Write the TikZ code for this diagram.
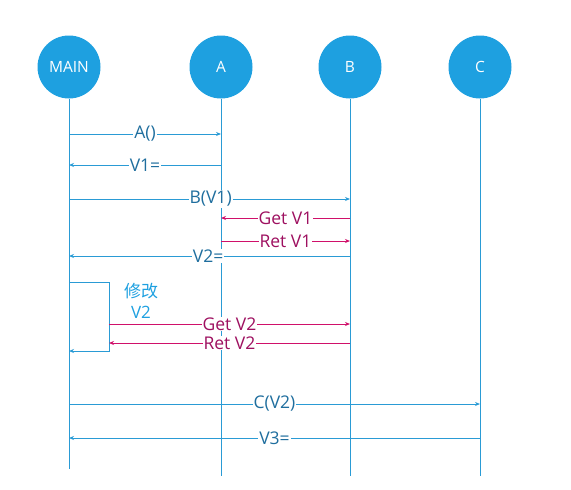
\documentclass[tikz,border=0pt]{standalone}
\usepackage{fontspec}
\setmainfont{Open Sans}
\newfontfamily\cjk{Noto Sans CJK SC}
\usetikzlibrary{arrows.meta}
\definecolor{cblue}{HTML}{1EA0E0}
\definecolor{lblue}{HTML}{2A9BD5}
\definecolor{tblue}{HTML}{1F6E9E}
\definecolor{mag}{HTML}{D0106A}
\definecolor{tmag}{HTML}{9E1060}
\tikzset{
  actor/.style={circle, fill=cblue, minimum size=63pt, inner sep=0pt, text=white, font=\fontsize{15.5}{18}\selectfont},
  life/.style={draw=lblue, line width=1pt},
  msg/.style={draw=lblue, line width=1pt, -{Stealth[length=5pt,width=4pt]}},
  rmsg/.style={draw=mag, line width=1pt, -{Stealth[length=5pt,width=4pt]}},
  lbl/.style={fill=white, inner sep=1pt, text=tblue, font=\fontsize{17.5}{20}\selectfont},
  rlbl/.style={fill=white, inner sep=1pt, text=tmag, font=\fontsize{17.5}{20}\selectfont},
}
\begin{document}
\begin{tikzpicture}[x=1pt,y=-1pt]
\useasboundingbox (0,0) rectangle (571,490);
% actors
\node[actor] (main) at (69,67) {MAIN};
\node[actor] (a) at (221,67) {A};
\node[actor] (b) at (350,67) {B};
\node[actor] (c) at (480,67) {C};
% lifeline ends
\coordinate (mainE) at (69,469);
\coordinate (aE) at (221,476);
\coordinate (bE) at (350,476);
\coordinate (cE) at (480,476);
\draw[life] (main.south) -- (mainE);
\draw[life] (a.south) -- (aE);
\draw[life] (b.south) -- (bE);
\draw[life] (c.south) -- (cE);
% message points
\coordinate (m1) at (69,134); \coordinate (a1) at (221,134);
\coordinate (m2) at (69,165); \coordinate (a2) at (221,165);
\coordinate (m3) at (69,199); \coordinate (b3) at (350,199);
\coordinate (a4) at (221,218); \coordinate (b4) at (350,218);
\coordinate (a5) at (221,241); \coordinate (b5) at (350,241);
\coordinate (m6) at (69,256); \coordinate (b6) at (350,256);
\coordinate (m7) at (69,282); \coordinate (s7) at (109,282);
\coordinate (s8) at (109,351); \coordinate (m8) at (69,351);
\coordinate (s9) at (109,324); \coordinate (b9) at (350,324);
\coordinate (s10) at (109,343); \coordinate (b10) at (350,343);
\coordinate (m11) at (69,404); \coordinate (c11) at (480,404);
\coordinate (m12) at (69,438); \coordinate (c12) at (480,438);
% messages
\draw[msg] (m1) -- (a1) node[lbl, pos=0.5] {A()};
\draw[msg] (a2) -- (m2) node[lbl, pos=0.5] {V1=};
\draw[msg] (m3) -- (b3) node[lbl, pos=0.504] {B(V1)};
\draw[rmsg] (b4) -- (a4) node[rlbl, pos=0.5] {Get V1};
\draw[rmsg] (a5) -- (b5) node[rlbl, pos=0.5] {Ret V1};
\draw[msg] (b6) -- (m6) node[lbl, pos=0.505] {V2=};
\draw[msg] (m7) -- (s7) -- (s8) -- (m8);
\node[text=cblue, font=\fontsize{17}{21}\selectfont, align=center] (note) at (141,301) {{\cjk 修改}\\V2};
\draw[rmsg] (s9) -- (b9) node[rlbl, pos=0.5] {Get V2};
\draw[rmsg] (b10) -- (s10) node[rlbl, pos=0.5] {Ret V2};
\draw[msg] (m11) -- (c11) node[lbl, pos=0.5] {C(V2)};
\draw[msg] (c12) -- (m12) node[lbl, pos=0.5] {V3=};
\end{tikzpicture}
\end{document}
